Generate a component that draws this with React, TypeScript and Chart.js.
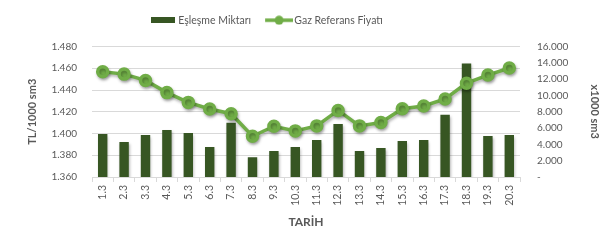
import React, { useEffect, useRef } from "react";
import { Chart, registerables } from "chart.js";

Chart.register(...registerables);

const categories = ["1.3","2.3","3.3","4.3","5.3","6.3","7.3","8.3","9.3","10.3","11.3","12.3","13.3","14.3","15.3","16.3","17.3","18.3","19.3","20.3"];
const eslesmeMiktari = [5280,4290,5150,5770,5400,3670,6640,2430,3180,3670,4540,6510,3180,3550,4410,4540,7630,13930,5030,5150];
const gazReferansFiyati = [1.4568,1.4546,1.4488,1.4376,1.4286,1.4225,1.4182,1.3975,1.4067,1.4024,1.4070,1.4212,1.4070,1.4101,1.4228,1.4253,1.4318,1.4463,1.4537,1.4602];
const leftTicks = { min: 1.36, max: 1.48, step: 0.02 };
const rightTicks = { min: 0, max: 16000, step: 2000 };

const BAR_COLOR = "#375623";
const LINE_COLOR = "#70AD47";
const TEXT = "#595959";
const FONT = "Lato, 'Liberation Sans', sans-serif";

function barIcon() {
  const c = document.createElement("canvas");
  c.width = 36; c.height = 6;
  const x = c.getContext("2d")!;
  x.fillStyle = BAR_COLOR;
  x.fillRect(12, 0, 24, 6);
  return c;
}
function lineIcon() {
  const c = document.createElement("canvas");
  c.width = 40; c.height = 10;
  const x = c.getContext("2d")!;
  x.strokeStyle = LINE_COLOR;
  x.lineWidth = 3.5;
  x.beginPath(); x.moveTo(12, 5); x.lineTo(40, 5); x.stroke();
  x.fillStyle = LINE_COLOR;
  x.beginPath(); x.arc(26, 5, 4.5, 0, Math.PI * 2); x.fill();
  return c;
}

const fmtThousands = (v: number) => {
  if (v === 0) return "-";
  return Math.round(v).toString().replace(/\B(?=(\d{3})+(?!\d))/g, ".");
};

export default function App() {
  const ref = useRef<HTMLCanvasElement>(null);
  useEffect(() => {
    document.body.style.margin = "0";
    const icons = [barIcon(), lineIcon()];
    const shadowPlugin = {
      id: "shadow",
      beforeDatasetDraw(chart: any) {
        const ctx = chart.ctx;
        ctx.save();
        ctx.shadowColor = "rgba(0,0,0,0.3)";
        ctx.shadowBlur = 3;
        ctx.shadowOffsetX = 1;
        ctx.shadowOffsetY = 2;
      },
      afterDatasetDraw(chart: any) {
        chart.ctx.restore();
      },
    };
    const legendMargin = {
      id: "legendMargin",
      afterInit(chart: any) {
        const legend = chart.legend;
        if (!legend) return;
        const orig = legend.fit;
        legend.fit = function () {
          orig.call(this);
          this.height += 11;
        };
      },
      afterLayout(chart: any) {
        const legend = chart.legend;
        if (!legend) return;
        const w = legend.right - legend.left;
        legend.left = 135;
        legend.right = 135 + w;
      },
    };
    const chart = new Chart(ref.current!, {
      data: {
        labels: categories,
        datasets: [
          {
            type: "bar",
            label: "Eşleşme Miktarı",
            data: eslesmeMiktari,
            backgroundColor: BAR_COLOR,
            yAxisID: "y1",
            barPercentage: 0.44,
            categoryPercentage: 1,
            order: 2,
          },
          {
            type: "line",
            label: "Gaz Referans Fiyatı",
            data: gazReferansFiyati,
            borderColor: LINE_COLOR,
            backgroundColor: LINE_COLOR,
            borderWidth: 3.5,
            pointRadius: 5,
            pointHoverRadius: 5,
            pointBackgroundColor: LINE_COLOR,
            pointBorderColor: LINE_COLOR,
            tension: 0,
            yAxisID: "y",
            order: 1,
          },
        ],
      },
      options: {
        animation: false,
        responsive: false,
        maintainAspectRatio: false,
        layout: { padding: { left: 26, right: 10, top: 9, bottom: 9 } },
        plugins: {
          tooltip: { enabled: false },
          legend: {
            position: "top",
            align: "start",
            labels: {
              color: TEXT,
              font: { family: FONT, size: 10.5 },
              usePointStyle: true,
              pointStyleWidth: 32,
              padding: 6,
              sort: (a: any, b: any) => a.datasetIndex - b.datasetIndex,
              generateLabels: (chart: any) => {
                const labels = Chart.defaults.plugins.legend.labels.generateLabels(chart);
                labels.forEach((l: any) => {
                  l.pointStyle = icons[l.datasetIndex];
                  l.fontColor = TEXT;
                });
                return labels;
              },
            },
          },
        },
        scales: {
          x: {
            type: "category",
            offset: true,
            grid: { display: true, drawOnChartArea: false, drawTicks: true, tickLength: 5, offset: true, color: "#d9d9d9" },
            border: { color: "#d9d9d9" },
            ticks: { color: TEXT, font: { family: FONT, size: 10.5 }, minRotation: 90, maxRotation: 90, autoSkip: false, padding: 3 },
            title: { display: true, text: "TARİH", color: TEXT, font: { family: FONT, size: 12, weight: "bold" }, padding: { top: 6 } },
            afterFit: (s: any) => { s.height = 56; },
          },
          y: {
            type: "linear",
            position: "left",
            min: leftTicks.min,
            max: leftTicks.max,
            ticks: {
              stepSize: leftTicks.step,
              color: TEXT,
              font: { family: FONT, size: 10 },
              padding: 15,
              callback: (v: any) => Number(v).toFixed(3),
            },
            grid: { color: "#d9d9d9", drawTicks: false },
            border: { display: false },
            title: { display: true, text: "TL/1000 sm3", color: TEXT, font: { family: FONT, size: 11, weight: "bold" }, padding: 0 },
            afterFit: (s: any) => { s.width = 66; },
          },
          y1: {
            type: "linear",
            position: "right",
            min: rightTicks.min,
            max: rightTicks.max,
            ticks: {
              stepSize: rightTicks.step,
              color: TEXT,
              font: { family: FONT, size: 10 },
              padding: 17,
              callback: (v: any) => fmtThousands(Number(v)),
            },
            grid: { display: false, drawTicks: false },
            border: { display: false },
            title: { display: true, text: "x1000 sm3", color: TEXT, font: { family: FONT, size: 11, weight: "bold" }, padding: 0 },
            afterFit: (s: any) => { s.width = 81; },
          },
        },
      },
      plugins: [shadowPlugin, legendMargin],
    } as any);
    return () => chart.destroy();
  }, []);
  return (
    <div style={{ width: 611, height: 242 }}>
      <canvas ref={ref} width={611} height={242} style={{ display: "block", width: 611, height: 242 }} />
    </div>
  );
}
